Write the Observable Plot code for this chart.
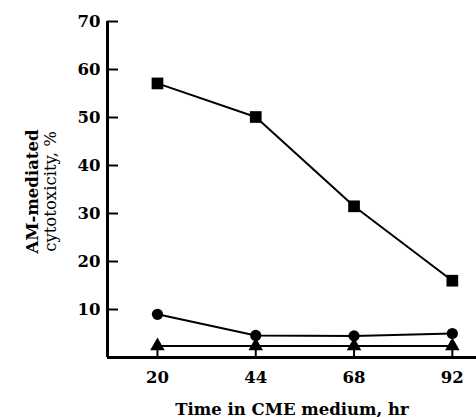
<!DOCTYPE html>
<html>
<head>
<meta charset="utf-8">
<script src="https://cdn.jsdelivr.net/npm/d3@7"></script>
<script src="https://cdn.jsdelivr.net/npm/@observablehq/plot@0.6"></script>
<style>
  html, body { margin: 0; padding: 0; background: #fff; }
</style>
</head>
<body>
<div id="chart"></div>
<script>
const times = [20, 44, 68, 92];
const xTicks = [20, 44, 68, 92];
const yTicks = [10, 20, 30, 40, 50, 60, 70];
const squareSeries = [57.1, 50.1, 31.5, 16.0];
const circleSeries = [9.0, 4.6, 4.5, 5.0];
const triangleSeries = [2.4, 2.4, 2.4, 2.4];
const xLabel = "Time in CME medium, hr";
const yLabel1 = "AM-mediated";
const yLabel2 = "cytotoxicity, %";

const series = [
  {name: "square", values: squareSeries, symbol: "square", r: 6.6},
  {name: "circle", values: circleSeries, symbol: "circle", r: 5.6},
  {name: "triangle", values: triangleSeries, symbol: "triangle", r: 5.4}
];
const rows = series.flatMap(s => s.values.map((v, i) => ({series: s.name, symbol: s.symbol, r: s.r, t: times[i], v})));

const W = 476, H = 417, ML = 107, MR = 0, MT = 21, MB = 60;
const frameW = W - ML - MR, frameH = H - MT - MB;
const xMin = 7.8, xMax = 97.9;
const font = "'DejaVu Serif', 'Liberation Serif', serif";

const marks = [
  Plot.axisY({ticks: yTicks, tickSize: 0, tickPadding: 7, label: null, fontSize: 16.5, fontWeight: "bold"}),
  Plot.axisX({ticks: xTicks, tickSize: 0, tickPadding: 14, label: null, fontSize: 16.5, fontWeight: "bold"}),
  Plot.tickY(yTicks, {y: d => d, insetRight: frameW - 11, stroke: "black", strokeWidth: 2}),
  Plot.tickX(xTicks, {x: d => d, insetTop: frameH - 10, stroke: "black", strokeWidth: 2}),
  Plot.ruleY([0], {strokeWidth: 3, stroke: "black"}),
  Plot.ruleX([xMin], {y1: 0, y2: 70, strokeWidth: 3, stroke: "black"})
];
for (const s of series) {
  const d = rows.filter(r => r.series === s.name);
  marks.push(Plot.line(d, {x: "t", y: "v", stroke: "black", strokeWidth: 2}));
  marks.push(Plot.dot(d, {x: "t", y: "v", symbol: s.symbol, r: s.r, fill: "black", stroke: "none"}));
}
marks.push(Plot.text([xLabel], {frameAnchor: "bottom", lineAnchor: "bottom", dy: 57, fontSize: 16.5, fontWeight: "bold", fill: "black"}));
marks.push(Plot.text([yLabel1], {frameAnchor: "left", textAnchor: "middle", rotate: -90, dx: -75, dy: 2, fontSize: 16.5, fontWeight: "bold", fill: "black"}));
marks.push(Plot.text([yLabel2], {frameAnchor: "left", textAnchor: "middle", rotate: -90, dx: -57, dy: 2, fontSize: 16.5, fontWeight: "normal", fill: "black"}));

const chart = Plot.plot({
  width: W,
  height: H,
  marginLeft: ML,
  marginRight: MR,
  marginTop: MT,
  marginBottom: MB,
  x: {domain: [xMin, xMax]},
  y: {domain: [0, 70]},
  symbol: {type: "identity"},
  style: {fontFamily: font, color: "black", background: "white", overflow: "visible"},
  marks
});
document.getElementById("chart").appendChild(chart);
</script>
</body>
</html>
